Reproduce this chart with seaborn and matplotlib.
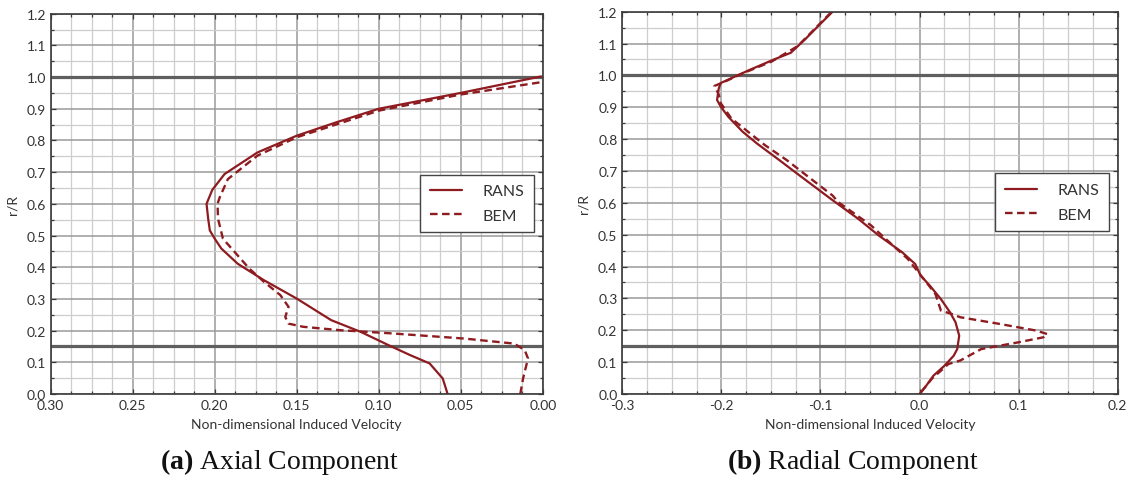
import numpy as np
import pandas as pd
import matplotlib
matplotlib.use("Agg")
import matplotlib.pyplot as plt
from matplotlib.ticker import MultipleLocator, FormatStrFormatter
import seaborn as sns

# ---- Axial component (r/R vs induced velocity) ----
axial_rans_r = [1.002, 0.95, 0.90, 0.857, 0.815, 0.762, 0.694, 0.644, 0.60, 0.553,
                0.516, 0.49, 0.459, 0.411, 0.359, 0.301, 0.233, 0.196, 0.154, 0.123,
                0.0965, 0.049, 0.0]
axial_rans_v = [0.001, 0.050, 0.100, 0.126, 0.150, 0.174, 0.194, 0.2015, 0.205, 0.204,
                0.203, 0.200, 0.196, 0.186, 0.170, 0.150, 0.129, 0.111, 0.094, 0.081,
                0.069, 0.061, 0.058]

axial_bem_r = [0.983, 0.945, 0.894, 0.81, 0.752, 0.678, 0.62, 0.60, 0.553, 0.49,
               0.443, 0.396, 0.354, 0.312, 0.275, 0.243, 0.222, 0.212, 0.2015, 0.191,
               0.175, 0.159, 0.1385, 0.112, 0.049, 0.0]
axial_bem_v = [0.002, 0.050, 0.100, 0.150, 0.174, 0.192, 0.197, 0.1983, 0.198, 0.195,
               0.187, 0.179, 0.170, 0.160, 0.155, 0.157, 0.155, 0.146, 0.124, 0.0915,
               0.048, 0.0174, 0.011, 0.009, 0.012, 0.0137]

# ---- Radial component ----
radial_rans_r = [1.2, 1.16, 1.113, 1.071, 1.05, 1.018, 0.997, 0.976, 0.96, 0.923,
                 0.902, 0.87, 0.823, 0.786, 0.734, 0.681, 0.6125, 0.55, 0.497, 0.445,
                 0.408, 0.372, 0.34, 0.298, 0.2565, 0.225, 0.183, 0.141, 0.12, 0.089,
                 0.0576, 0.026, 0.0]
radial_rans_v = [-0.0878, -0.1007, -0.1156, -0.130, -0.147, -0.171, -0.186, -0.2007,
                 -0.2026, -0.2044, -0.2007, -0.193, -0.1785, -0.164, -0.1415, -0.119,
                 -0.0896, -0.062, -0.041, -0.0176, -0.0044, 0.001, 0.0104, 0.0215,
                 0.0307, 0.0363, 0.040, 0.038, 0.0344, 0.0252, 0.014, 0.0067, 0.0]

radial_bem_r = [1.197, 1.092, 1.044, 1.007, 0.98, 0.967, 0.955, 0.939, 0.913, 0.865,
                0.818, 0.781, 0.734, 0.681, 0.623, 0.602, 0.529, 0.497, 0.424, 0.351,
                0.314, 0.262, 0.251, 0.241, 0.22, 0.199, 0.188, 0.178, 0.162, 0.141,
                0.105, 0.094, 0.073, 0.05, 0.026, 0.0]
radial_bem_v = [-0.0896, -0.123, -0.149, -0.178, -0.197, -0.207, -0.205, -0.2026,
                -0.2007, -0.19, -0.171, -0.156, -0.134, -0.112, -0.0878, -0.082,
                -0.0489, -0.0378, -0.0119, 0.0067, 0.016, 0.0215, 0.0326, 0.041,
                0.0807, 0.1178, 0.129, 0.125, 0.0993, 0.0622, 0.041, 0.029, 0.0215,
                0.013, 0.0067, 0.0]

hub_r = 0.15
tip_r = 1.0
series_labels = ["RANS", "BEM"]
captions = [("(a)", "Axial Component"), ("(b)", "Radial Component")]
xlabel = "Non-dimensional Induced Velocity"
ylabel = "r/R"

sns.set_theme(style="ticks")
plt.rcParams["font.family"] = ["Lato", "DejaVu Sans"]
plt.rcParams["axes.unicode_minus"] = False
plt.rcParams["mathtext.fontset"] = "custom"
plt.rcParams["mathtext.rm"] = "Liberation Serif"
plt.rcParams["mathtext.bf"] = "Liberation Serif:bold"

RED = "#8e1b20"
GRID_MAJ = "#9a9a9a"
GRID_MIN = "#cdcdcd"
SPINE = "#3a3a3a"
TEXT = "#333333"

fig = plt.figure(figsize=(11.35, 4.81), dpi=100)
ax_a = fig.add_axes([0.0447, 0.1788, 0.4335, 0.7907])
ax_b = fig.add_axes([0.5483, 0.1788, 0.4365, 0.7948])


def draw_panel(ax, rans_v, rans_r, bem_v, bem_r):
    rans = pd.DataFrame({"v": rans_v, "r": rans_r})
    bem = pd.DataFrame({"v": bem_v, "r": bem_r})
    for val in (tip_r, hub_r):
        ax.axhline(val, color="#5f5f5f", lw=2.3, zorder=2)
    sns.lineplot(data=rans, x="v", y="r", sort=False, estimator=None, ax=ax,
                 color=RED, lw=1.6, label=series_labels[0], zorder=3)
    sns.lineplot(data=bem, x="v", y="r", sort=False, estimator=None, ax=ax,
                 color=RED, lw=1.7, linestyle=(0, (3.2, 1.9)),
                 label=series_labels[1], zorder=3)
    ax.set_ylim(0.0, 1.2)
    ax.yaxis.set_major_locator(MultipleLocator(0.1))
    ax.yaxis.set_minor_locator(MultipleLocator(0.05))
    ax.yaxis.set_major_formatter(FormatStrFormatter("%.1f"))
    ax.grid(which="major", color=GRID_MAJ, lw=1.1, zorder=0)
    ax.grid(which="minor", color=GRID_MIN, lw=0.9, zorder=0)
    ax.set_axisbelow(True)
    ax.tick_params(which="both", direction="in", top=True, right=True,
                   color=SPINE, width=0.9, labelsize=10, labelcolor=TEXT)
    ax.tick_params(which="major", length=3.5, pad=3.5)
    ax.tick_params(which="minor", length=2.2)
    for sp in ax.spines.values():
        sp.set_color(SPINE)
        sp.set_linewidth(1.2)
        sp.set_zorder(4)
    ax.set_xlabel(xlabel, fontsize=10, color=TEXT, labelpad=5)
    ax.set_ylabel(ylabel, fontsize=10, color=TEXT, labelpad=6)
    leg = ax.legend(loc="upper right", bbox_to_anchor=(0.982, 0.577),
                    borderaxespad=0, fontsize=11.5, frameon=True, fancybox=False,
                    handlelength=2.0, handletextpad=1.3, labelspacing=0.65,
                    borderpad=0.6)
    frame = leg.get_frame()
    frame.set_edgecolor("#444444")
    frame.set_linewidth(1.0)
    frame.set_alpha(1.0)
    for t in leg.get_texts():
        t.set_color(TEXT)


draw_panel(ax_a, axial_rans_v, axial_rans_r, axial_bem_v, axial_bem_r)
ax_a.set_xlim(0.30, 0.0)
ax_a.xaxis.set_major_locator(MultipleLocator(0.05))
ax_a.xaxis.set_minor_locator(MultipleLocator(0.0125))
ax_a.xaxis.set_major_formatter(FormatStrFormatter("%.2f"))

draw_panel(ax_b, radial_rans_v, radial_rans_r, radial_bem_v, radial_bem_r)
ax_b.set_xlim(-0.3, 0.2)
ax_b.xaxis.set_major_locator(MultipleLocator(0.1))
ax_b.xaxis.set_minor_locator(MultipleLocator(0.025))
ax_b.xaxis.set_major_formatter(FormatStrFormatter("%.1f"))

# sub-captions under each panel: bold tag followed by the panel name
for (tag, name), xc in zip(captions, [280 / 1135, 853 / 1135]):
    fig.text(xc, 0.025, f"$\\mathbf{{{tag}}}$ {name}", ha="center", va="baseline",
             fontsize=20, family="Liberation Serif", color="#111111")

fig.savefig("out.png", dpi=100)
